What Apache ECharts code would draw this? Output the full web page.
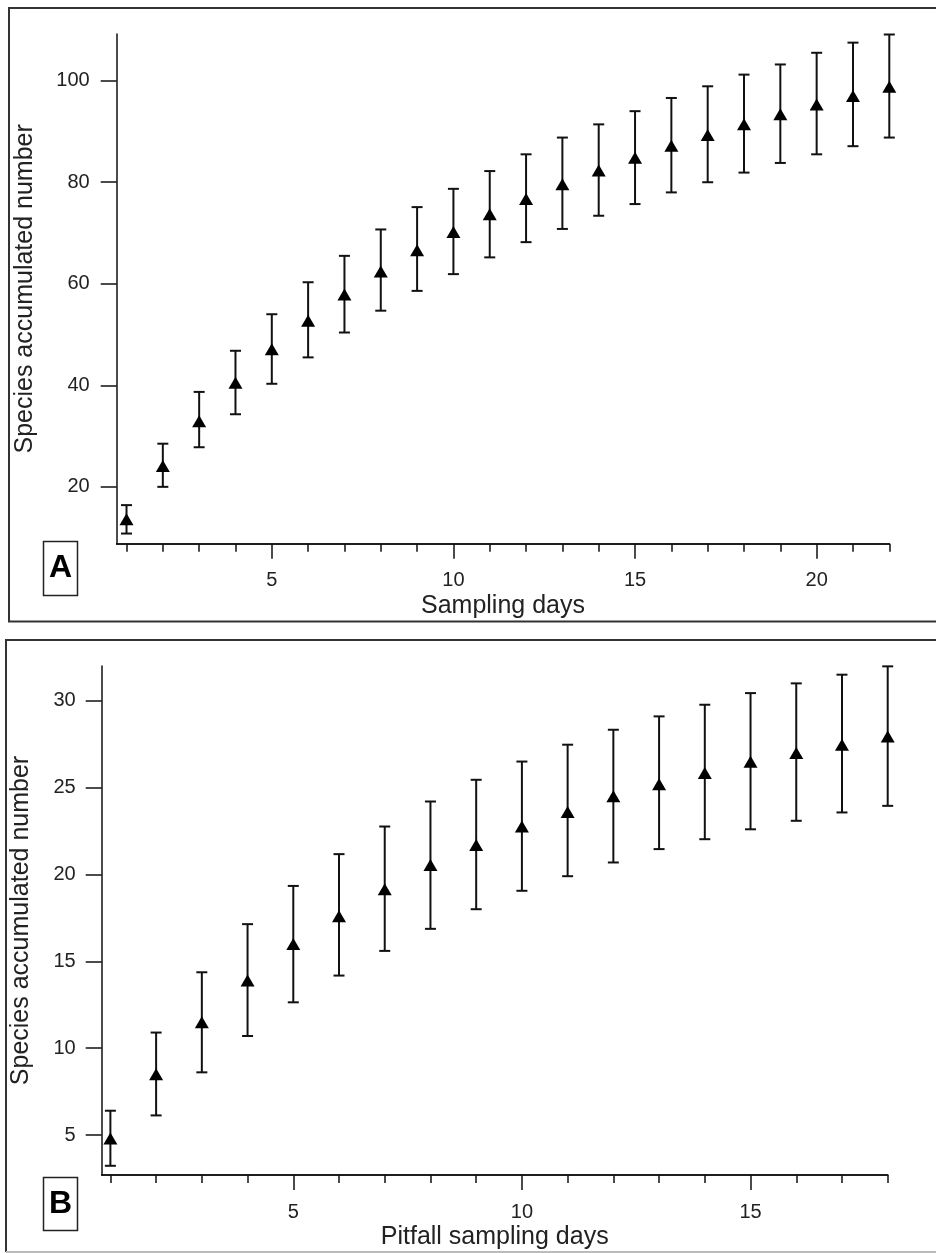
<!DOCTYPE html>
<html>
<head>
<meta charset="utf-8">
<script src="https://cdn.jsdelivr.net/npm/echarts@6/dist/echarts.min.js"></script>
<style>
html,body{margin:0;padding:0;background:#fff;}
#chart{width:936px;height:1253px;}
</style>
</head>
<body>
<div id="chart"></div>
<script>
// ---------- Data ----------
const daysA = [1,2,3,4,5,6,7,8,9,10,11,12,13,14,15,16,17,18,19,20,21,22];
const meanA = [13.6,24.1,32.9,40.5,47.1,52.7,57.9,62.4,66.6,70.2,73.7,76.7,79.6,82.3,84.8,87.2,89.3,91.4,93.4,95.3,97.0,98.8];
const lowA  = [10.8,20.0,27.8,34.3,40.3,45.5,50.4,54.7,58.6,61.9,65.2,68.2,70.8,73.4,75.7,78.0,80.0,81.9,83.8,85.5,87.1,88.8];
const highA = [16.4,28.5,38.7,46.8,54.0,60.3,65.5,70.7,75.1,78.7,82.2,85.5,88.8,91.4,94.0,96.6,98.9,101.2,103.2,105.5,107.5,109.1];

const daysB = [1,2,3,4,5,6,7,8,9,10,11,12,13,14,15,16,17,18];
const meanB = [4.8,8.5,11.5,13.9,16.0,17.6,19.15,20.55,21.7,22.76,23.6,24.5,25.2,25.84,26.49,26.99,27.47,27.94];
const lowB  = [3.23,6.13,8.61,10.7,12.64,14.18,15.6,16.87,18.0,19.06,19.9,20.69,21.46,22.03,22.6,23.09,23.57,23.95];
const highB = [6.4,10.9,14.37,17.14,19.34,21.17,22.76,24.2,25.45,26.5,27.47,28.33,29.1,29.77,30.44,31.0,31.5,31.98];

const xTicksA = [5,10,15,20];
const yTicksA = [20,40,60,80,100];
const xTicksB = [5,10,15];
const yTicksB = [5,10,15,20,25,30];

const xTitleA = 'Sampling days';
const xTitleB = 'Pitfall sampling days';
const yTitle = 'Species accumulated number';

// ---------- Chart ----------
const FONT = '"Liberation Sans", Arial, sans-serif';
const TXT = '#222';
const chart = echarts.init(document.getElementById('chart'), null, {renderer: 'canvas'});

function minorAxis(grid, min, max, days, len) {
  return {
    type: 'value', gridIndex: grid, min: min, max: max, position: 'bottom',
    axisLine: {show: true, lineStyle: {color: '#111', width: 1.5}},
    axisTick: {show: true, customValues: days, length: len, lineStyle: {color: '#111', width: 1.5}},
    axisLabel: {show: false},
    splitLine: {show: false}
  };
}
function majorXAxis(grid, min, max, ticks, title, len) {
  return {
    type: 'value', gridIndex: grid, min: min, max: max, position: 'bottom',
    name: title, nameLocation: 'middle', nameGap: 50,
    nameTextStyle: {fontFamily: FONT, fontSize: 25, color: TXT},
    axisLine: {show: true, lineStyle: {color: '#111', width: 1.5}},
    axisTick: {show: true, customValues: ticks, length: len, lineStyle: {color: '#111', width: 1.5}},
    axisLabel: {show: true, customValues: ticks, margin: 27, fontFamily: FONT, fontSize: 20, color: TXT},
    splitLine: {show: false}
  };
}
function yAxis(grid, min, max, ticks, gap, margin) {
  return {
    type: 'value', gridIndex: grid, min: min, max: max,
    name: yTitle, nameLocation: 'middle', nameGap: gap, nameRotate: 90,
    nameTextStyle: {fontFamily: FONT, fontSize: 25, color: TXT},
    axisLine: {show: true, lineStyle: {color: '#111', width: 1.5}},
    axisTick: {show: true, customValues: ticks, length: 16, lineStyle: {color: '#111', width: 1.5}},
    axisLabel: {show: true, customValues: ticks, margin: margin, fontFamily: FONT, fontSize: 20, color: TXT},
    splitLine: {show: false}
  };
}
function hiddenY(grid, min, max) {
  return {type: 'value', gridIndex: grid, min: min, max: max, show: false, splitLine: {show: false}};
}

function errorSeries(xIdx, yIdx, days, low, high) {
  return {
    type: 'custom', xAxisIndex: xIdx, yAxisIndex: yIdx,
    data: days.map((d, i) => [d, low[i], high[i]]),
    encode: {x: 0, y: [1, 2]},
    renderItem: function (params, api) {
      const x = api.value(0);
      const lo = api.coord([x, api.value(1)]);
      const hi = api.coord([x, api.value(2)]);
      const hw = 5.5;
      const st = {stroke: '#111', lineWidth: 2, fill: null};
      return {
        type: 'group',
        children: [
          {type: 'line', shape: {x1: lo[0], y1: lo[1], x2: hi[0], y2: hi[1]}, style: st},
          {type: 'line', shape: {x1: hi[0] - hw, y1: hi[1], x2: hi[0] + hw, y2: hi[1]}, style: st},
          {type: 'line', shape: {x1: lo[0] - hw, y1: lo[1], x2: lo[0] + hw, y2: lo[1]}, style: st}
        ]
      };
    },
    z: 2, silent: true
  };
}
function meanSeries(xIdx, yIdx, days, mean) {
  return {
    type: 'scatter', xAxisIndex: xIdx, yAxisIndex: yIdx,
    data: days.map((d, i) => [d, mean[i]]),
    symbol: 'triangle', symbolSize: [14, 12],
    itemStyle: {color: '#000', opacity: 1},
    z: 3, silent: true
  };
}

const gA = {left: 116.7, top: 34, width: 772.6, height: 509.7};
const gB = {left: 101.7, top: 666, width: 786, height: 509};

const option = {
  backgroundColor: '#fff',
  animation: false,
  grid: [gA, gB, Object.assign({}, gA), Object.assign({}, gB)],
  xAxis: [
    majorXAxis(0, 0.73, 22, xTicksA, xTitleA, 15),
    majorXAxis(1, 0.81, 18, xTicksB, xTitleB, 15),
    minorAxis(2, 0.73, 22, daysA, 8),
    minorAxis(3, 0.81, 18, daysB, 8)
  ],
  yAxis: [
    yAxis(0, 8.8, 109.2, yTicksA, 79, 27),
    yAxis(1, 2.7, 32.0, yTicksB, 68, 26),
    hiddenY(2, 8.8, 109.2),
    hiddenY(3, 2.7, 32.0)
  ],
  series: [
    errorSeries(0, 0, daysA, lowA, highA),
    meanSeries(0, 0, daysA, meanA),
    errorSeries(1, 1, daysB, lowB, highB),
    meanSeries(1, 1, daysB, meanB)
  ],
  graphic: [
    // Panel A frame
    {type: 'rect', shape: {x: 9, y: 8, width: 1000, height: 613.5}, style: {fill: null, stroke: '#333', lineWidth: 2}, silent: true},
    // Panel B frame (left + top dark, bottom light)
    {type: 'polyline', shape: {points: [[6, 1252], [6, 640], [1000, 640]]}, style: {fill: null, stroke: '#333', lineWidth: 2}, silent: true},
    {type: 'line', shape: {x1: 6, y1: 1252, x2: 1000, y2: 1252}, style: {stroke: '#bbb', lineWidth: 2}, silent: true},
    // Panel labels
    {type: 'rect', shape: {x: 43.5, y: 541.5, width: 34, height: 54}, style: {fill: '#fff', stroke: '#222', lineWidth: 1.5}, silent: true},
    {type: 'text', x: 60.5, y: 568.5, style: {text: 'A', fontFamily: FONT, fontWeight: 'bold', fontSize: 32, fill: '#000', align: 'center', verticalAlign: 'middle'}, silent: true},
    {type: 'rect', shape: {x: 43.5, y: 1177.5, width: 34, height: 53}, style: {fill: '#fff', stroke: '#222', lineWidth: 1.5}, silent: true},
    {type: 'text', x: 60.5, y: 1204, style: {text: 'B', fontFamily: FONT, fontWeight: 'bold', fontSize: 32, fill: '#000', align: 'center', verticalAlign: 'middle'}, silent: true}
  ]
};
chart.setOption(option);
</script>
</body>
</html>
